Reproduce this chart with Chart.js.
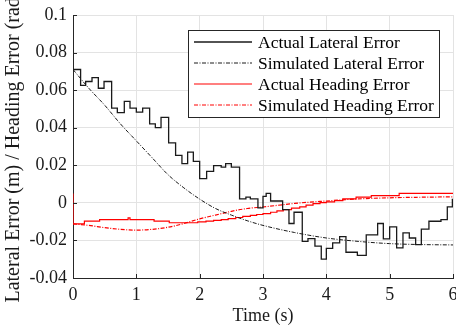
<!DOCTYPE html>
<html>
<head>
<meta charset="utf-8">
<script src="https://cdn.jsdelivr.net/npm/chart.js@4.4.1/dist/chart.umd.min.js"></script>
<style>
html,body{margin:0;padding:0;background:#fff;}
#wrap{width:456px;height:331px;position:relative;}
</style>
</head>
<body>
<div id="wrap"><canvas id="c" width="456" height="331"></canvas></div>
<script>
// ---- data ----
const xTicks = [0, 1, 2, 3, 4, 5, 6];
const yTickLabels = ['-0.04', '-0.02', '0', '0.02', '0.04', '0.06', '0.08', '0.1'];
const seriesNames = ['Actual Lateral Error', 'Simulated Lateral Error', 'Actual Heading Error', 'Simulated Heading Error'];

const actLatT = [0, 0.12, 0.20, 0.30, 0.40, 0.49, 0.61, 0.70, 0.81, 0.90, 1.00, 1.10, 1.21, 1.30, 1.39, 1.51, 1.62, 1.72, 1.81, 1.90, 2.00, 2.11, 2.22, 2.34, 2.41, 2.50, 2.63, 2.73, 2.80, 2.92, 3.00, 3.05, 3.12, 3.31, 3.41, 3.49, 3.62, 3.71, 3.82, 3.92, 4.00, 4.10, 4.21, 4.31, 4.49, 4.63, 4.81, 4.90, 5.00, 5.11, 5.21, 5.31, 5.41, 5.50, 5.62, 5.81, 5.91, 5.99, 6.00];
const actLatV = [0.071, 0.0625, 0.0646, 0.0667, 0.061, 0.0646, 0.0504, 0.048, 0.054, 0.0504, 0.0483, 0.0504, 0.042, 0.040, 0.0455, 0.0319, 0.0253, 0.0209, 0.027, 0.0221, 0.0129, 0.0168, 0.0198, 0.019, 0.0209, 0.019, 0.0021, 0.003, 0.0021, -0.0027, 0.0035, 0.005, 0.001, -0.0036, -0.011, -0.005, -0.0205, -0.019, -0.023, -0.030, -0.0242, -0.0213, -0.018, -0.0263, -0.028, -0.017, -0.011, -0.0192, -0.0128, -0.024, -0.016, -0.0187, -0.0222, -0.014, -0.0098, -0.0089, -0.0021, 0.0018, 0.0018];

const simLatT = [0, 0.25, 0.5, 0.75, 1.0, 1.25, 1.5, 1.75, 2.0, 2.25, 2.5, 2.75, 3.0, 3.5, 4.0, 4.5, 5.0, 5.5, 6.0];
const simLatV = [0.071, 0.061, 0.052, 0.042, 0.033, 0.024, 0.015, 0.008, 0.002, -0.003, -0.0065, -0.0095, -0.012, -0.0158, -0.0187, -0.0205, -0.0217, -0.0222, -0.0224];

const actHeadT = [0, 0, 0.18, 0.42, 0.87, 0.90, 1.28, 1.52, 1.97, 2.10, 2.22, 2.34, 2.45, 2.57, 2.68, 2.80, 2.90, 3.00, 3.12, 3.22, 3.32, 3.45, 3.58, 3.68, 3.79, 3.90, 4.00, 4.13, 4.26, 4.47, 4.71, 5.15, 6.00];
const actHeadV = [0.005, -0.0112, -0.0097, -0.0089, -0.0080, -0.0089, -0.0097, -0.0106, -0.0101, -0.0097, -0.0093, -0.0089, -0.0084, -0.0078, -0.0072, -0.0067, -0.0062, -0.0057, -0.0050, -0.0043, -0.0036, -0.0028, -0.0021, -0.0012, -0.0004, 0.0001, 0.0005, 0.0012, 0.0021, 0.0030, 0.0039, 0.0050, 0.0050];

const simHeadT = [0, 0.25, 0.5, 0.75, 1.0, 1.25, 1.5, 1.75, 2.0, 2.25, 2.5, 2.75, 3.0, 3.5, 4.0, 4.5, 5.0, 5.5, 6.0];
const simHeadV = [-0.0112, -0.012, -0.0132, -0.0141, -0.0145, -0.0141, -0.013, -0.011, -0.0085, -0.0065, -0.0045, -0.003, -0.0022, -0.0003, 0.001, 0.0021, 0.0027, 0.003, 0.0032];

function pts(t, v) { return t.map((x, i) => ({x: x, y: v[i]})); }

const FONT = 'Liberation Serif';
const DASHDOT = [4, 1.5, 1, 1.5];

const inwardTicks = {
  id: 'inwardTicks',
  afterDraw(chart) {
    const ctx = chart.ctx, a = chart.chartArea;
    const xs = chart.scales.x, ys = chart.scales.y;
    ctx.save();
    ctx.strokeStyle = '#262626';
    ctx.lineWidth = 1;
    ctx.beginPath();
    xTicks.forEach(v => {
      const px = Math.round(xs.getPixelForValue(v)) + 0.5;
      ctx.moveTo(px, a.bottom); ctx.lineTo(px, a.bottom - 4);
    });
    ys.ticks.forEach(t => {
      const py = Math.round(ys.getPixelForValue(t.value)) + 0.5;
      ctx.moveTo(a.left, py); ctx.lineTo(a.left + 4, py);
    });
    ctx.stroke();
    ctx.restore();
  }
};

const boxLegend = {
  id: 'boxLegend',
  afterDraw(chart) {
    const ctx = chart.ctx;
    const bx = 188.5, by = 30.5, bw = 251, bh = 87;
    ctx.save();
    ctx.fillStyle = '#fff';
    ctx.fillRect(bx, by, bw, bh);
    ctx.strokeStyle = '#262626';
    ctx.lineWidth = 1;
    ctx.setLineDash([]);
    ctx.strokeRect(bx, by, bw, bh);
    ctx.font = '17.5px "' + FONT + '"';
    ctx.textBaseline = 'middle';
    ctx.textAlign = 'left';
    chart.data.datasets.forEach((ds, i) => {
      const y = 42 + i * 21;
      ctx.beginPath();
      ctx.strokeStyle = ds.borderColor;
      ctx.lineWidth = ds.borderWidth;
      ctx.setLineDash(ds.borderDash || []);
      ctx.moveTo(194, y); ctx.lineTo(252, y);
      ctx.stroke();
      ctx.setLineDash([]);
      ctx.fillStyle = '#000';
      ctx.fillText(ds.label, 258, y + 1);
    });
    ctx.restore();
  }
};

new Chart(document.getElementById('c'), {
  type: 'line',
  data: {
    datasets: [
      {label: seriesNames[0], data: pts(actLatT, actLatV), borderColor: '#1a1a1a', borderWidth: 1.3, stepped: true, pointRadius: 0, fill: false},
      {label: seriesNames[1], data: pts(simLatT, simLatV), borderColor: '#1a1a1a', borderWidth: 1, borderDash: DASHDOT, cubicInterpolationMode: 'monotone', pointRadius: 0, fill: false},
      {label: seriesNames[2], data: pts(actHeadT, actHeadV), borderColor: '#ff0000', borderWidth: 1.2, stepped: true, pointRadius: 0, fill: false},
      {label: seriesNames[3], data: pts(simHeadT, simHeadV), borderColor: '#ff0000', borderWidth: 1.2, borderDash: DASHDOT, cubicInterpolationMode: 'monotone', pointRadius: 0, fill: false}
    ]
  },
  options: {
    responsive: false,
    animation: false,
    devicePixelRatio: 1,
    layout: {padding: {top: 15, right: 3, left: 0, bottom: 0}},
    plugins: {legend: {display: false}, tooltip: {enabled: false}},
    scales: {
      x: {
        type: 'linear', min: 0, max: 6,
        afterBuildTicks(s) { s.ticks = xTicks.map(v => ({value: v})); },
        afterFit(s) { s.height = 53; s.paddingLeft = 0; s.paddingRight = 0; },
        ticks: {color: '#1a1a1a', font: {family: FONT, size: 18}, padding: 6, maxRotation: 0, autoSkip: false},
        grid: {color: '#e3e3e3', drawTicks: false},
        border: {color: '#262626', width: 1},
        title: {display: true, text: 'Time (s)', color: '#1a1a1a', font: {family: FONT, size: 18}, padding: {top: 2, bottom: 4}}
      },
      y: {
        type: 'linear', min: -0.04, max: 0.1,
        afterBuildTicks(s) { s.ticks = yTickLabels.map(l => ({value: parseFloat(l)})); },
        afterFit(s) { s.width = 73; s.paddingTop = 0; s.paddingBottom = 0; },
        ticks: {
          color: '#1a1a1a', font: {family: FONT, size: 18}, padding: 6, autoSkip: false,
          callback: (v, i) => yTickLabels[i]
        },
        grid: {color: '#e3e3e3', drawTicks: false},
        border: {color: '#262626', width: 1},
        title: {display: true, text: 'Lateral Error (m) / Heading Error (rad)', color: '#1a1a1a', font: {family: FONT, size: 20}, padding: {top: 2, bottom: 4}}
      }
    }
  },
  plugins: [inwardTicks, boxLegend]
});
</script>
</body>
</html>
